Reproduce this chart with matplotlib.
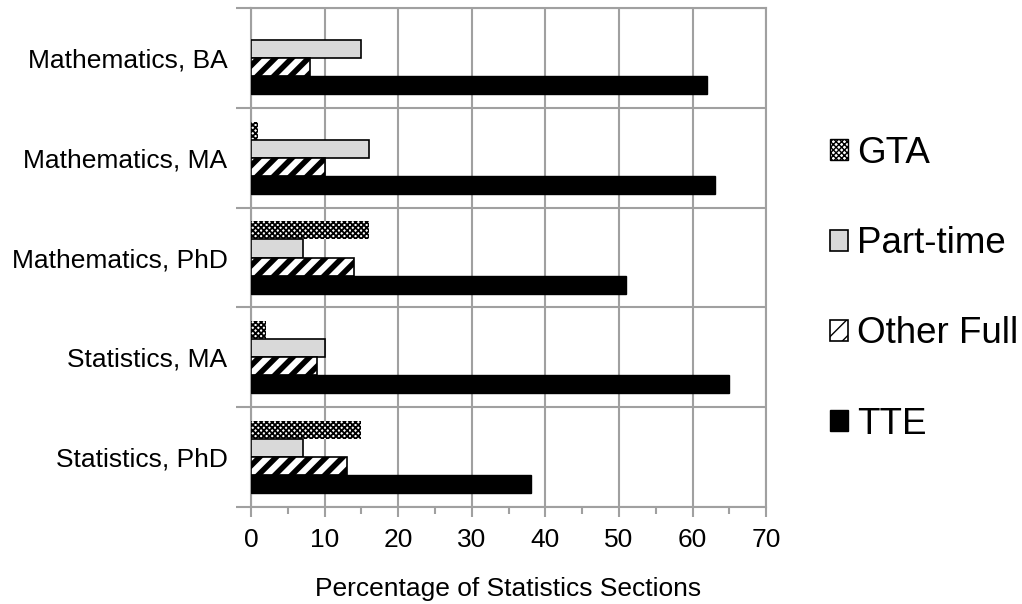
import numpy as np
import matplotlib
matplotlib.use("Agg")
import matplotlib.pyplot as plt
from matplotlib.patches import Patch
from matplotlib.ticker import MultipleLocator, FixedLocator

plt.rcParams['font.family'] = ['Liberation Sans', 'DejaVu Sans']

programs = ["Mathematics, BA", "Mathematics, MA", "Mathematics, PhD",
            "Statistics, MA", "Statistics, PhD"]
gta = [0, 1, 16, 2, 15]
part_time = [15, 16, 7, 10, 7]
other_full = [8, 10, 14, 9, 13]
tte = [62, 63, 51, 65, 38]

series_names = ["GTA", "Part-time", "Other Full", "TTE"]

GRID = '#a0a0a0'

fig = plt.figure(figsize=(10.22, 6.04), dpi=100)
ax = fig.add_axes([0.2456, 0.1606, 0.504, 0.826])

y = np.arange(len(programs))
h = 0.181

styles = [
    dict(facecolor='white', edgecolor='black', hatch='xxxxxx', linewidth=0, hlw=1.3),
    dict(facecolor='#d9d9d9', edgecolor='black', hatch=None, linewidth=1.2, hlw=1.0),
    dict(facecolor='white', edgecolor='black', hatch='//', linewidth=1.2, hlw=4.0),
    dict(facecolor='black', edgecolor='black', hatch=None, linewidth=1.0, hlw=1.0),
]
values = [gta, part_time, other_full, tte]

handles = []
for k, (vals, st, name) in enumerate(zip(values, styles, series_names)):
    offset = (k - 1.5) * h
    bars = ax.barh(y + offset, vals, height=h, facecolor=st['facecolor'],
                   edgecolor=st['edgecolor'], hatch=st['hatch'],
                   linewidth=st['linewidth'], zorder=3)
    for b in bars:
        if hasattr(b, 'set_hatch_linewidth'):
            b.set_hatch_linewidth(st['hlw'])
    hp = Patch(facecolor=st['facecolor'], edgecolor=st['edgecolor'],
               hatch=st['hatch'], linewidth=max(st['linewidth'], 1.0), label=name)
    if hasattr(hp, 'set_hatch_linewidth'):
        hp.set_hatch_linewidth(min(st['hlw'], 3.0))
    handles.append(hp)

ax.set_xlim(0, 70)
ax.set_ylim(len(programs) - 0.5, -0.5)

ax.xaxis.set_major_locator(MultipleLocator(10))
ax.xaxis.set_minor_locator(MultipleLocator(5))
ax.tick_params(axis='x', which='major', length=7, width=1.5, color=GRID,
               labelsize=19, pad=8)
ax.tick_params(axis='x', which='minor', length=5, width=1.5, color=GRID)

ax.set_yticks(y)
ax.set_yticklabels(programs)
ax.yaxis.set_minor_locator(FixedLocator(np.arange(-0.5, len(programs), 1.0)))
ax.tick_params(axis='y', which='major', length=0, labelsize=19, pad=17)
ax.tick_params(axis='y', which='minor', length=11, width=1.5, color=GRID)

ax.grid(True, axis='x', which='major', color=GRID, linewidth=1.5, zorder=0)
ax.grid(True, axis='y', which='minor', color=GRID, linewidth=1.5, zorder=0)
ax.set_axisbelow(True)
for s in ax.spines.values():
    s.set_color(GRID)
    s.set_linewidth(1.5)

ax.set_xlabel("Percentage of Statistics Sections", fontsize=19, labelpad=18)

fig.legend(handles=handles, loc='upper left', bbox_to_anchor=(0.812, 0.775),
           frameon=False, fontsize=26.5, handlelength=0.5, handleheight=0.5,
           handletextpad=0.25, labelspacing=1.5, borderaxespad=0, borderpad=0)

fig.savefig("out.png", dpi=100)
